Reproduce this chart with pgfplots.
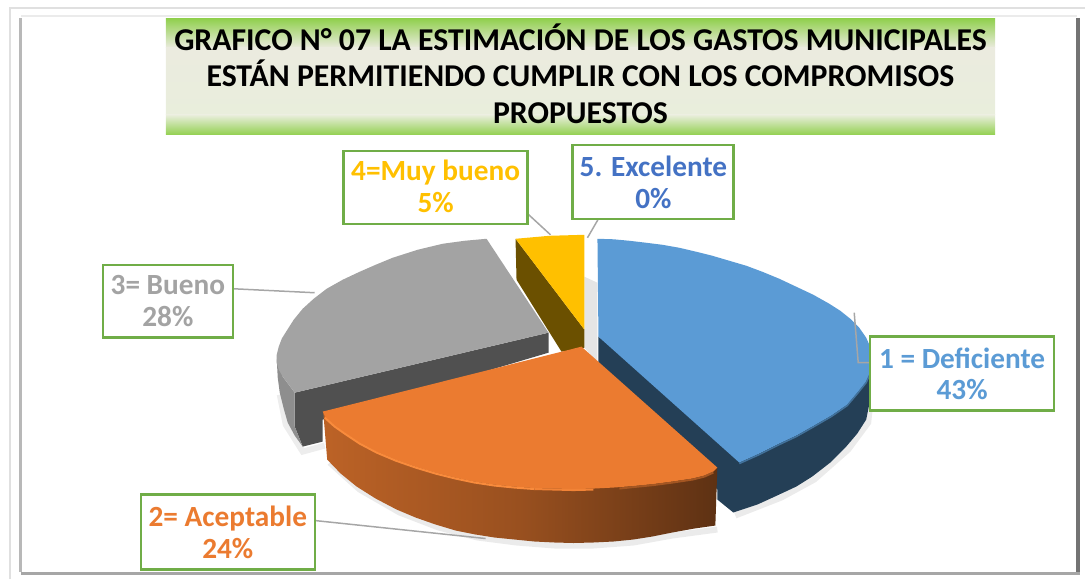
\documentclass[border=0pt]{standalone}
\usepackage{pgfplots}
\pgfplotsset{compat=1.18}
\usepackage{fontspec}
\setmainfont{Carlito}
\definecolor{gborder}{HTML}{70AD47}
\definecolor{lead}{HTML}{A6A6A6}
\definecolor{cblue}{HTML}{5B9BD5}
\definecolor{cblued}{HTML}{243F56}
\definecolor{corange}{HTML}{EB7B30}
\definecolor{crim}{HTML}{F98B3C}
\definecolor{cgray}{HTML}{A3A3A3}
\definecolor{cgrayd}{HTML}{505050}
\definecolor{cgraym}{HTML}{8E8E8E}
\definecolor{cyellow}{HTML}{FFC000}
\definecolor{cyellowd}{HTML}{6B5000}
\definecolor{tgreen}{HTML}{92D050}
\definecolor{tpale}{HTML}{EBEBDF}
\definecolor{tpale2}{HTML}{E9EEDC}
\definecolor{cexc}{HTML}{4472C4}
\newcommand{\lab}[4]{%
  \node[draw=gborder,line width=2.4pt,fill=white,minimum width=#3,minimum height=#4,inner sep=0pt] at (axis cs:#1,#2) {};}
\newcommand{\txt}[4]{\node[text=#3,font=\fontsize{29.3}{32}\selectfont\bfseries,inner sep=0pt,anchor=base] at (axis cs:#1,#2) {#4};}
\newcommand{\ttl}[2]{\node[text=black,font=\fontsize{31.8}{36}\selectfont\bfseries,inner sep=0pt,anchor=base] at (axis cs:581,#1) {#2};}
\begin{document}
\begin{tikzpicture}
\begin{axis}[scale only axis,width=1086pt,height=580pt,xmin=0,xmax=1086,ymin=0,ymax=580,y dir=reverse,hide axis,clip=false]
\addplot[draw=none,forget plot] coordinates {(0,0)(1086,0)(1086,580)(0,580)(0,0)};
% frame
\addplot[draw=black!12,line width=2pt,forget plot] coordinates {(10,580)(10,8)(1086,8)};
\addplot[draw=black!8,line width=1.5pt,forget plot] coordinates {(21,16)(1078,16)};
\addplot[draw=black!28,line width=3pt,forget plot] coordinates {(21,18)(21,573)};
\addplot[draw=black!55,line width=4pt,forget plot] coordinates {(1079,18)(1079,573)};
\addplot[draw=black!35,line width=3pt,forget plot] coordinates {(21,574)(1081,574)};
% title background
\addplot[draw=none,top color=tgreen,bottom color=tpale,forget plot] coordinates {(166,19)(996,19)(996,48)(166,48)(166,19)};
\addplot[draw=none,top color=tpale,bottom color=tpale2,forget plot] coordinates {(166,48)(996,48)(996,115)(166,115)(166,48)};
\addplot[draw=none,top color=tpale2,bottom color=tgreen,forget plot] coordinates {(166,115)(996,115)(996,135)(166,135)(166,115)};
% soft shadows
\addplot[draw=black!7,line width=6pt,forget plot] coordinates {(280,395)(286,425)(303,452)(325,446)};
\addplot[draw=black!8,line width=6pt,forget plot] coordinates {(330,463)(360,490)(400,513)(439,528)(478,538)(517,543)(555,546)(594,546)(634,543)(673,536)(718,530)};
\addplot[draw=black!8,line width=6pt,forget plot] coordinates {(736,516)(782,498)(815,480)(849,450)(869,423)(872,395)};
\addplot[draw=none,fill=black!10,forget plot] coordinates {(585,277)(598,283)(598,363)(585,348)(585,277)};
% gray slice
\addplot[draw=none,fill=cgrayd,forget plot] coordinates {(295,393)(549,333)(549,353)(323,420)(323,442)(303,447)(295,427)(295,393)};
\addplot[draw=none,fill=cgraym,forget plot] coordinates {(277,360)(278,378)(280,393)(284,409)(288,423)(295,436)(303,447)(295,427)(295,393)(283,377)(277,360)};
\addplot[draw=none,fill=cgray,forget plot] coordinates {(549,333)(487,239)(465,241)(443,244)(418,250)(393,258)(376,265)(360,272)(343,280)(327,289)(314,299)(303,309)(294,320)(287,331)(282,339)(279,347)(277,355)(277,363)(279,370)(283,377)(289,385)(295,393)(549,333)};
% yellow slice
\addplot[draw=none,fill=cyellowd,forget plot] coordinates {(516,239)(585,330)(585,348)(562,352)(517,280)(516,239)};
\addplot[draw=none,fill=cyellow,forget plot] coordinates {(516,239)(550,236)(585,235)(585,330)(516,239)};
% blue slice
\addplot[draw=none,fill=cblued,forget plot] coordinates {(599,337)(599,363)(718,490)(718,500)(734,513)(758,505)(780,495)(797,487)(813,477)(831,463)(847,447)(858,434)(867,420)(870,405)(873,370)(740,440)(599,337)};
\addplot[draw=none,fill=cblue,forget plot] coordinates {(598,239)(614,239.5)(630,241)(647,243)(663,245)(680,248)(697,252)(713,256)(730,261)(747,266)(763,272)(780,279)(797,287)(814,295)(830,304)(841,311)(851,319)(860,328)(867,338)(871,347)(873,356)(873,365)(871,373)(867,382)(859,392)(848,405)(832,416)(813,427)(797,436)(780,444)(760,454)(740,463)(599,337)(598,239)};
\addplot[draw=cblue!55!cblued,line width=1.5pt,forget plot] coordinates {(740,464)(760,455)(780,445)(797,437)(813,428)(832,417)(848,406)(859,393)(867,383)(871,374)};
% orange slice
\addplot[draw=none,left color=corange!80!black,right color=corange!40!black,middle color=corange!65!black,forget plot] coordinates {(323,412)(323.6,413)(327.5,460)(341,474)(357,487)(376,499)(397,510)(416,518)(436,525)(456,531)(476,535)(495,538)(515,540)(535,542)(555,543)(574,543.5)(594,543)(614,542)(634,540)(653,537)(673,533)(695,529)(716,526)(718,468)(323,412)};
\addplot[draw=none,fill=corange,forget plot] coordinates {(582,347)(323,412)(326,418)(335,426)(345,433)(360,443)(377,452)(396,460)(416,467)(436,473)(456,478)(475,482)(495,485)(515,487)(535,488.5)(555,489)(574,489.5)(594,489)(614,488)(634,486.5)(654,484.5)(673,482)(693,479)(705,476)(714,472)(718,468)(582,347)};
\addplot[draw=crim,line width=2pt,forget plot] coordinates {(325,418)(335,427)(345,434)(360,444)(377,453)(396,461)(416,468)(436,474)(456,479)(475,483)(495,486)(515,488)(535,489.5)};
\addplot[draw=crim!50!corange,line width=2pt,forget plot] coordinates {(535,489.5)(555,490)(574,490.5)(594,490)};
\addplot[draw=corange!70!black,line width=2pt,forget plot] coordinates {(620,489)(634,487.5)(654,485.5)(673,483)(693,480)(705,477)(714,473)};
% leaders
\addplot[draw=lead,line width=1.5pt,forget plot] coordinates {(526,212)(551,235)};
\addplot[draw=lead,line width=1.5pt,forget plot] coordinates {(599,219)(588,238)};
\addplot[draw=lead,line width=1.5pt,forget plot] coordinates {(233,289)(315,293)};
\addplot[draw=lead,line width=1.5pt,forget plot] coordinates {(855,313)(859,363)(872,363)};
\addplot[draw=lead,line width=1.5pt,forget plot] coordinates {(315,521)(486,539)};
% title
\ttl{51}{GRAFICO N° 07 LA ESTIMACIÓN DE LOS GASTOS MUNICIPALES}
\ttl{87}{ESTÁN PERMITIENDO CUMPLIR CON LOS COMPROMISOS}
\ttl{124}{PROPUESTOS}
% labels
\lab{436}{187.5}{184pt}{73pt}
\txt{436}{181}{cyellow}{4=Muy bueno}
\txt{436}{213}{cyellow}{5\%}
\lab{653.5}{182}{161pt}{74pt}
\txt{654}{177}{cexc}{5. Excelente}
\txt{654}{209}{cexc}{0\%}
\lab{168}{301.5}{130pt}{73pt}
\txt{168}{295}{cgray}{3= Bueno}
\txt{168}{327}{cgray}{28\%}
\lab{963}{374}{184pt}{74pt}
\txt{963}{369}{cblue}{1 = Deficiente}
\txt{963}{400}{cblue}{43\%}
\lab{228}{532.5}{174pt}{75pt}
\txt{228}{527}{corange}{2= Aceptable}
\txt{228}{559}{corange}{24\%}
\end{axis}
\end{tikzpicture}
\end{document}
